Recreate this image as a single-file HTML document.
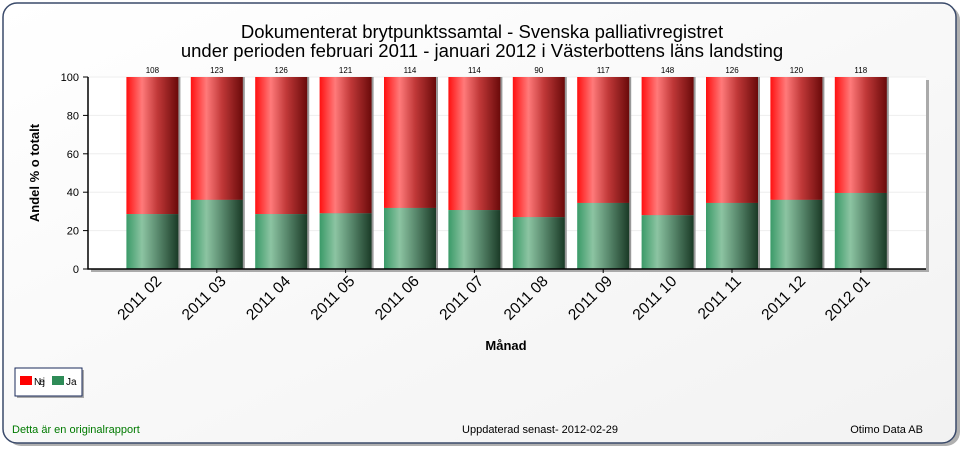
<!DOCTYPE html>
<html><head><meta charset="utf-8"><style>
body{margin:0;width:965px;height:450px;background:#fff;font-family:"Liberation Sans",sans-serif;overflow:hidden}
</style></head><body>
<svg width="965" height="450">
<defs>
<linearGradient id="gr" x1="0" x2="1"><stop offset="0" stop-color="#ff1010"/><stop offset="0.3" stop-color="#ff7a7a"/><stop offset="0.6" stop-color="#c03838"/><stop offset="1" stop-color="#6a0a0a"/></linearGradient>
<linearGradient id="gg" x1="0" x2="1"><stop offset="0" stop-color="#3a9a68"/><stop offset="0.3" stop-color="#8cc4a2"/><stop offset="0.6" stop-color="#5a8a6e"/><stop offset="1" stop-color="#1a3a26"/></linearGradient>
<linearGradient id="bg" x1="0" y1="0" x2="1" y2="1"><stop offset="0" stop-color="#ffffff"/><stop offset="1" stop-color="#f2f2f2"/></linearGradient>
</defs>
<rect x="4" y="3" width="953" height="440" rx="14" fill="#b0b0b0" transform="translate(3,3)"/>
<rect x="3" y="3" width="953" height="440" rx="14" fill="url(#bg)" stroke="#3a4a6a" stroke-width="1.5"/>
<text x="482" y="38" text-anchor="middle" font-size="18.5">Dokumenterat brytpunktssamtal - Svenska palliativregistret</text>
<text x="482" y="57" text-anchor="middle" font-size="18.5">under perioden februari 2011 - januari 2012 i Västerbottens läns landsting</text>
<rect x="91" y="80" width="838" height="192" fill="#aaa"/>
<rect x="88" y="77" width="838" height="192" fill="#fff"/>
<g id="grid"></g><g id="bars"></g><g id="axes"></g>
<text transform="translate(39,173) rotate(-90)" text-anchor="middle" font-size="13" font-weight="bold">Andel % o totalt</text>
<text x="506" y="350" text-anchor="middle" font-size="13" font-weight="bold">Månad</text>
<g>
<rect x="17" y="370" width="67" height="28" fill="#aaa"/>
<rect x="15" y="368" width="67" height="28" fill="#fff" stroke="#1a2a5a"/>
<rect x="20" y="376" width="12" height="9" fill="#ff0000"/>
<text x="34" y="385" font-size="10" textLength="11">Nej</text>
<rect x="52" y="376" width="12" height="9" fill="#2e8b57"/>
<text x="66" y="385" font-size="10">Ja</text>
</g>
<text x="12" y="433" font-size="11" fill="#007a00">Detta är en originalrapport</text>
<text x="540" y="433" text-anchor="middle" font-size="11">Uppdaterad senast- 2012-02-29</text>
<text x="923" y="433" text-anchor="end" font-size="11">Otimo Data AB</text>
</svg>
<script>
const categories=["2011 02","2011 03","2011 04","2011 05","2011 06","2011 07","2011 08","2011 09","2011 10","2011 11","2011 12","2012 01"];
const jaValues=[28.6,36,28.6,29,31.8,30.7,27,34.4,28,34.4,36,39.6];
const totals=[108,123,126,121,114,114,90,117,148,126,120,118];
const yTicks=[0,20,40,60,80,100];
const NS="http://www.w3.org/2000/svg";
const x0=88,step=64.4,yb=269,yt=77,bw=52;
const xc=i=>x0+step*(i+1);
const y=v=>yb-(v/100)*(yb-yt);
function mk(p,t,a){const e=document.createElementNS(NS,t);for(const k in a)e.setAttribute(k,a[k]);p.appendChild(e);return e;}
const grid=document.getElementById('grid'),bars=document.getElementById('bars'),axes=document.getElementById('axes');
yTicks.forEach(v=>{
 if(v>0){const g=mk(grid,'line',{x1:x0,x2:926,y1:y(v),y2:y(v),stroke:'#eee'});
 
 }
 const t=mk(axes,'line',{x1:x0-5,x2:x0,y1:y(v),y2:y(v),stroke:'#000'});
 
 
 const l=mk(axes,'text',{x:x0-9,y:y(v)+4,'text-anchor':'end','font-size':11});l.textContent=v;
 
 
});
categories.forEach((c,i)=>{
 const cx=xc(i),ja=jaValues[i];
 const sh=mk(bars,'rect',{x:cx-bw/2+2,y:y(100),width:bw,height:yb-y(100),fill:'#999'});
 
 
 const r=mk(bars,'rect',{x:cx-bw/2,y:y(100),width:bw,height:y(ja)-y(100),fill:'url(#gr)'});
 
 
 const g=mk(bars,'rect',{x:cx-bw/2,y:y(ja),width:bw,height:yb-y(ja),fill:'url(#gg)'});
 
 
 const tl=mk(bars,'text',{x:cx,y:73,'text-anchor':'middle','font-size':8});tl.textContent=totals[i];
 
 
 const xl=mk(axes,'text',{transform:`translate(${cx+10},${282}) rotate(-45)`,'text-anchor':'end','font-size':15.5});xl.textContent=c;
 
 
 if(i%2==1){const t=mk(axes,'line',{x1:cx,x2:cx,y1:yb,y2:yb+4,stroke:'#000'});
 
 }
});
const ax=mk(axes,'path',{d:`M${x0},${yt} V${yb} H926`,stroke:'#000',fill:'none','stroke-width':1.5});


</script>
</body></html>
